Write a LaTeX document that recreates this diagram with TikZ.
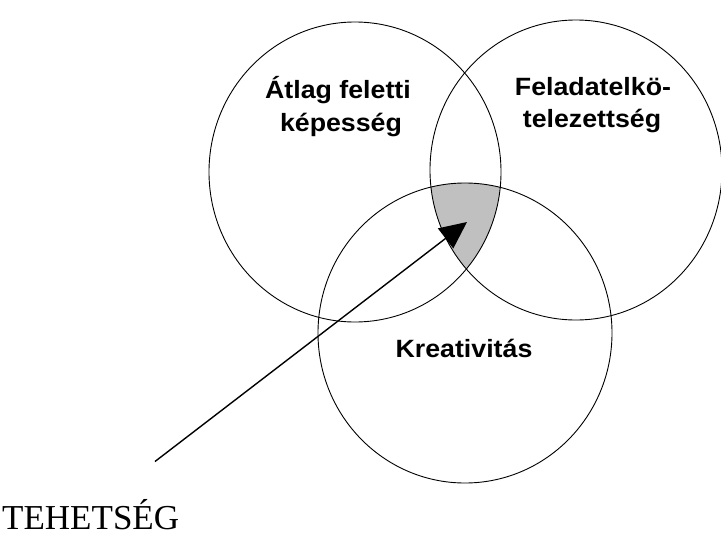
\documentclass[tikz,border=0pt]{standalone}
\usepackage{fontspec}
\usetikzlibrary{arrows.meta}
\newfontfamily\labfont[FakeStretch=1.07]{Liberation Sans}
\newfontfamily\serfont{Liberation Serif}
\definecolor{shadegray}{RGB}{192,192,192}
\begin{document}
\begin{tikzpicture}[x=1pt,y=-1pt,
  ring/.style={draw=black, line width=0.9pt},
  lab/.style={anchor=base, inner sep=0pt, font=\labfont\bfseries\fontsize{25}{28}\selectfont},
  pointer/.style={-{Triangle[length=27pt,width=25pt]}, line width=1.4pt}]
\useasboundingbox (0,0) rectangle (721,536);
% common region
\begin{scope}
  \clip (355,172) ellipse [x radius=146pt, y radius=150pt];
  \clip (576,170) ellipse [x radius=146pt, y radius=150pt];
  \fill[shadegray] (465,333) ellipse [x radius=147pt, y radius=150pt];
\end{scope}
% circles
\draw[ring] (355,172) ellipse [x radius=146pt, y radius=150pt];
\draw[ring] (576,170) ellipse [x radius=146pt, y radius=150pt];
\draw[ring] (465,333) ellipse [x radius=147pt, y radius=150pt];
% labels
\node[lab] (a1) at (338,98) {Átlag feletti};
\node[lab] (a2) at (341,131) {képesség};
\node[lab] (f1) at (593,95) {Feladatelkö-};
\node[lab] (f2) at (592,127) {telezettség};
\node[lab] (k) at (464,357) {Kreativitás};
\node[anchor=base west, inner sep=0pt, font=\serfont\fontsize{35}{40}\selectfont] (teh) at (2,529) {TEHETSÉG};
% arrow
\coordinate (tail) at (155,461.5);
\coordinate (tip) at (467,222);
\draw[pointer] (tail) -- (tip);
\end{tikzpicture}
\end{document}
